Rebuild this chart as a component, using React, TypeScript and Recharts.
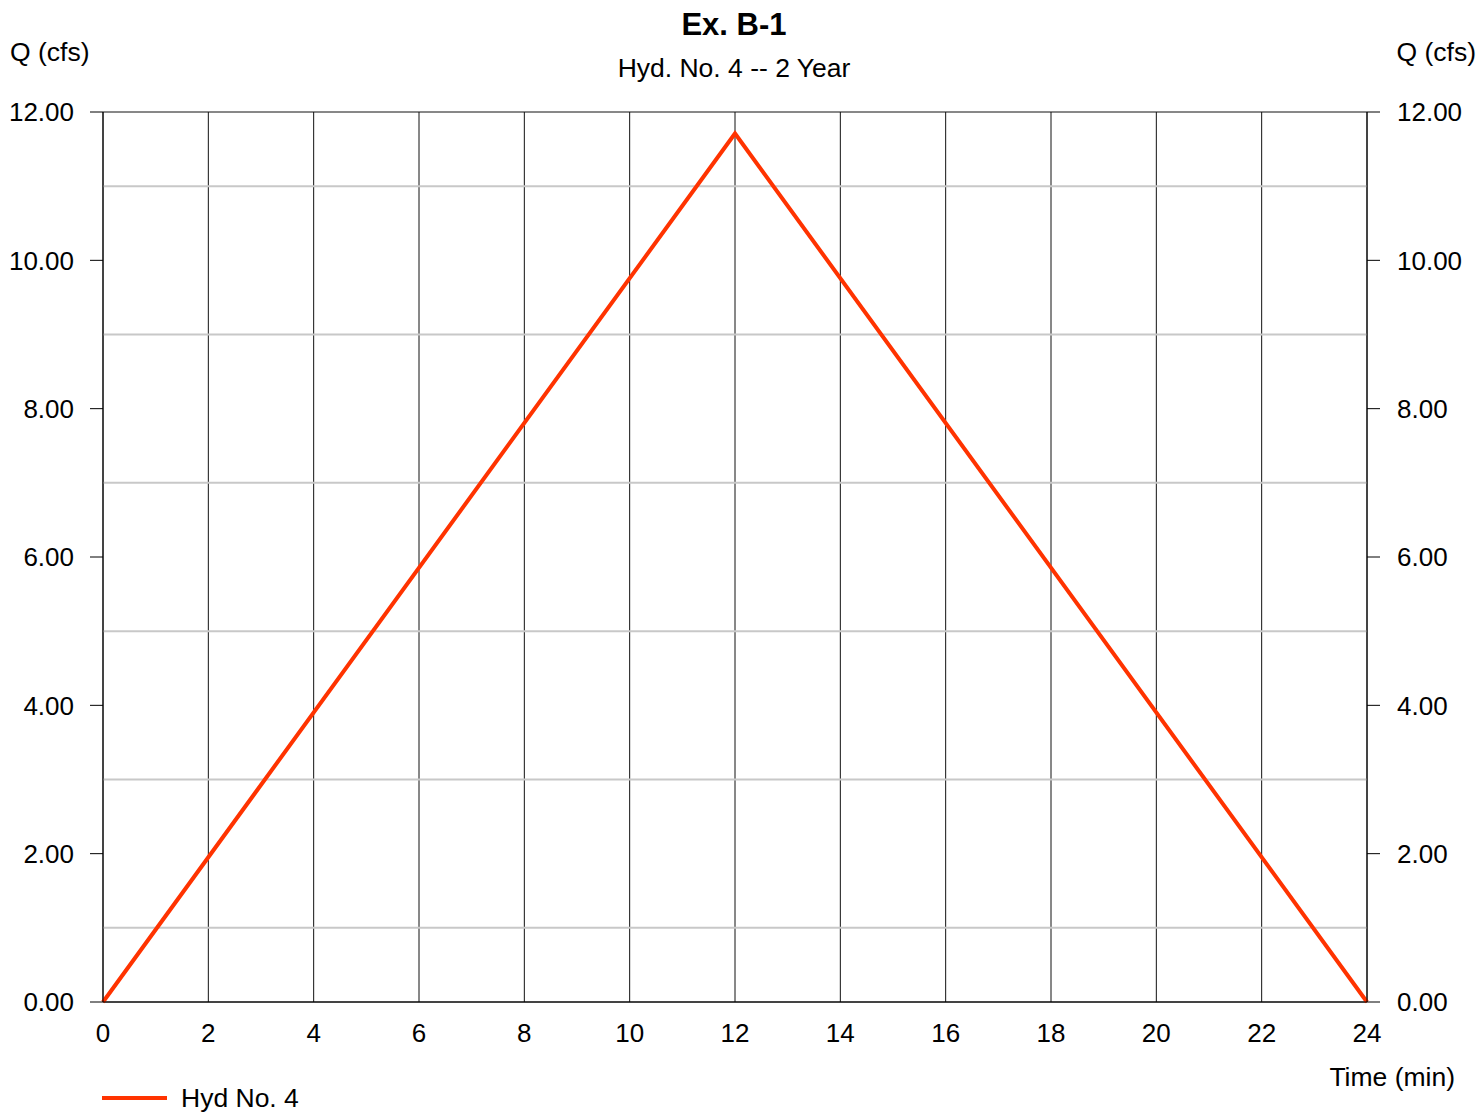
import React from "react";
import {
  LineChart,
  Line,
  XAxis,
  YAxis,
  CartesianGrid,
  ReferenceLine,
  Legend,
} from "recharts";

const times = [0, 12, 24];
const flows = [0, 11.71, 0];
const timeTicks = [0, 2, 4, 6, 8, 10, 12, 14, 16, 18, 20, 22, 24];
const flowTicks = [0, 2, 4, 6, 8, 10, 12];
const minorFlowLines = [1, 3, 5, 7, 9, 11];

const FONT = '"Liberation Sans", Arial, sans-serif';
const LINE_COLOR = "#ff3300";

const data = times.map((t, i) => ({ time: t, q: flows[i] }));

const fmt = (v: number) => v.toFixed(2);

function LegendBox() {
  return (
    <svg width={260} height={30} style={{ display: "block" }}>
      <line x1={2} y1={15} x2={67} y2={15} stroke={LINE_COLOR} strokeWidth={4} />
      <text x={81} y={15} dy="0.355em" fontSize={26.5} fontFamily={FONT} fill="#000">
        Hyd No. 4
      </text>
    </svg>
  );
}

export default function App() {
  const tickStyle = { fontSize: 26, fontFamily: FONT, fill: "#000" };
  return (
    <div style={{ position: "absolute", left: 0, top: 0, width: 1478, height: 1112, background: "#fff" }}>
      <LineChart
        width={1478}
        height={1112}
        data={data}
        margin={{ top: 112, right: 0, bottom: 70, left: 0 }}
      >
        {minorFlowLines.map((v) => (
          <ReferenceLine key={v} yAxisId="left" y={v} stroke="#c8c8c8" strokeWidth={2} />
        ))}
        <CartesianGrid stroke="#111" strokeWidth={1} />
        <XAxis
          dataKey="time"
          type="number"
          domain={[0, 24]}
          ticks={timeTicks}
          height={40}
          tickSize={0}
          tickMargin={22}
          tickLine={false}
          axisLine={{ stroke: "#000" }}
          tick={tickStyle}
          interval={0}
        />
        <YAxis
          yAxisId="left"
          orientation="left"
          type="number"
          domain={[0, 12]}
          ticks={flowTicks}
          width={103}
          tickSize={13}
          tickMargin={16}
          tickFormatter={fmt}
          tickLine={{ stroke: "#000" }}
          axisLine={{ stroke: "#000" }}
          tick={tickStyle}
          interval={0}
        />
        <YAxis
          yAxisId="right"
          orientation="right"
          type="number"
          domain={[0, 12]}
          ticks={flowTicks}
          width={111}
          tickSize={13}
          tickMargin={17}
          tickFormatter={fmt}
          tickLine={{ stroke: "#000" }}
          axisLine={{ stroke: "#000" }}
          tick={{ ...tickStyle, textAnchor: "start" }}
          interval={0}
        />
        <Line
          yAxisId="right"
          type="linear"
          dataKey="q"
          stroke="transparent"
          strokeWidth={0}
          dot={false}
          activeDot={false}
          legendType="none"
          isAnimationActive={false}
        />
        <Line
          yAxisId="left"
          type="linear"
          dataKey="q"
          name="Hyd No. 4"
          stroke={LINE_COLOR}
          strokeWidth={4}
          dot={false}
          isAnimationActive={false}
        />
        <Legend
          layout="vertical"
          align="center"
          verticalAlign="middle"
          content={() => <LegendBox />}
          wrapperStyle={{ left: 100, top: 1083, width: 260, height: 30 }}
        />
      </LineChart>
      <svg
        width={1478}
        height={1112}
        style={{ position: "absolute", left: 0, top: 0, pointerEvents: "none" }}
      >
        <text x={734} y={35} textAnchor="middle" fontSize={31} fontWeight="bold" fontFamily={FONT} fill="#000">
          Ex. B-1
        </text>
        <text x={734} y={77} textAnchor="middle" fontSize={26.5} fontFamily={FONT} fill="#000">
          Hyd. No. 4 -- 2 Year
        </text>
        <text x={10} y={61} fontSize={26.5} fontFamily={FONT} fill="#000">
          Q (cfs)
        </text>
        <text x={1476} y={61} textAnchor="end" fontSize={26.5} fontFamily={FONT} fill="#000">
          Q (cfs)
        </text>
        <text x={1455} y={1086} textAnchor="end" fontSize={26.5} fontFamily={FONT} fill="#000">
          Time (min)
        </text>
      </svg>
    </div>
  );
}
